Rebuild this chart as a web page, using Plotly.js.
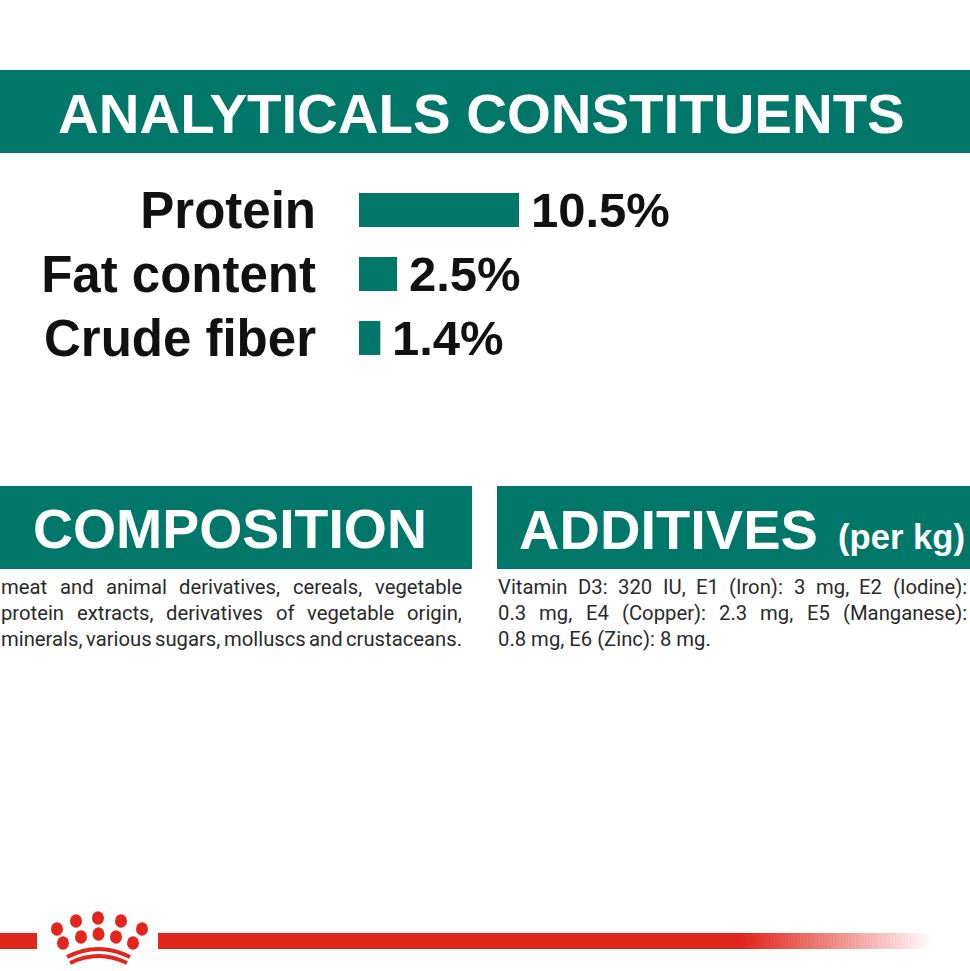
<!DOCTYPE html>
<html><head><meta charset="utf-8">
<script src="https://cdn.plot.ly/plotly-3.0.1.min.js"></script>
<style>html,body{margin:0;padding:0;background:#fff;overflow:hidden}#chart{width:970px;height:971px}</style>
</head><body><div id="chart"></div>
<script>
// ---- data ----
const categories = ["Protein", "Fat content", "Crude fiber"];
const values = [10.5, 2.5, 1.4];
const valueLabels = ["10.5%", "2.5%", "1.4%"];
const mainTitle = "ANALYTICALS CONSTITUENTS";
const compositionTitle = "COMPOSITION";
const additivesTitle = "ADDITIVES";
const additivesUnit = "(per kg)";
const compositionLines = [
  "meat and animal derivatives, cereals, vegetable",
  "protein extracts, derivatives of vegetable origin,",
  "minerals, various sugars, molluscs and crustaceans."
];
const additivesLines = [
  "Vitamin D3: 320 IU, E1 (Iron): 3 mg, E2 (Iodine):",
  "0.3 mg, E4 (Copper): 2.3 mg, E5 (Manganese):",
  "0.8 mg, E6 (Zinc): 8 mg."
];

// ---- helpers ----
const W = 970, H = 971;
const X = p => p / W, Y = p => 1 - p / H;
const TEAL = '#017769', RED = '#e1261c', INK = '#111111', BODY = '#2a2a2a';
const ctx = document.createElement('canvas').getContext('2d');
function tw(t, size, fam, weight) { ctx.font = (weight || 'normal') + ' ' + size + 'px ' + fam; return ctx.measureText(t).width; }
function hasFont(f) {
  const s = 'ABCDEFGHIJKLM abcdefghijklm 0123456789';
  return Math.abs(tw(s, 100, '"' + f + '", monospace', 'bold') - tw(s, 100, 'monospace', 'bold')) > 0.5;
}
const HEAD_FAM = hasFont('Liberation Sans Narrow') ? '"Liberation Sans Narrow", "Liberation Sans", Arial, sans-serif' : '"Liberation Sans", Arial, sans-serif';
const LABEL_FAM = '"Liberation Sans", Arial, sans-serif';
const BODY_FAM = 'Roboto, "Liberation Sans", sans-serif';
function fitSize(text, fam, targetW, capTarget) {
  const s = targetW / (tw(text, 100, fam, 'bold') / 100);
  return Math.min(s, capTarget * 1.06 / 0.716);
}

const annotations = [];
const shapes = [];
function rect(x0, y0, x1, y1, color, opacity) {
  shapes.push({type: 'rect', xref: 'paper', yref: 'paper', x0: X(x0), x1: X(x1), y0: Y(y1), y1: Y(y0),
    fillcolor: color, opacity: opacity == null ? 1 : opacity, line: {width: 0}, layer: 'below'});
}
function headText(text, x, anchor, capCenter, size) {
  annotations.push({text: text, xref: 'paper', yref: 'paper', x: X(x), y: Y(capCenter), xanchor: anchor, yanchor: 'middle',
    showarrow: false, borderpad: 0, borderwidth: 0, font: {family: HEAD_FAM, size: size, color: '#ffffff', weight: 'bold'}});
}

// ---- heading bands ----
rect(0, 70, 970, 153, TEAL);
rect(0, 486, 472, 569, TEAL);
rect(497, 486, 970, 569, TEAL);

const tSize = fitSize(mainTitle, HEAD_FAM, 847, 44);
headText(mainTitle, 481.5, 'center', 114, tSize);
const cSize = fitSize(compositionTitle, HEAD_FAM, 394, 46);
headText(compositionTitle, 230, 'center', 529, cSize);
const aSize = fitSize(additivesTitle, HEAD_FAM, 299, 46);
headText(additivesTitle, 519, 'left', 529, aSize);
const uSize = fitSize(additivesUnit, HEAD_FAM, 127, 27);
annotations.push({text: additivesUnit, xref: 'paper', yref: 'paper', x: X(965), y: Y(549 - 0.347 * uSize), xanchor: 'right', yanchor: 'middle',
  showarrow: false, borderpad: 0, borderwidth: 0, font: {family: HEAD_FAM, size: uSize, color: '#ffffff', weight: 'bold'}});

// ---- body text (justified) ----
let bSize = 20 * 213 / tw(additivesLines[2], 20, BODY_FAM);
bSize = Math.max(17, Math.min(22, bSize));
function bodyLine(line, left, right, baseline, justify) {
  const yc = Y(baseline - 0.345 * bSize);
  if (!justify) {
    annotations.push({text: line, xref: 'paper', yref: 'paper', x: X(left), y: yc, xanchor: 'left', yanchor: 'middle',
      showarrow: false, borderpad: 0, borderwidth: 0, font: {family: BODY_FAM, size: bSize, color: BODY}});
    return;
  }
  const words = line.split(' ');
  const ws = words.map(w => tw(w, bSize, BODY_FAM));
  const gap = (right - left - ws.reduce((a, b) => a + b, 0)) / (words.length - 1);
  let x = left;
  words.forEach((w, i) => {
    annotations.push({text: w, xref: 'paper', yref: 'paper', x: X(x), y: yc, xanchor: 'left', yanchor: 'middle',
      showarrow: false, borderpad: 0, borderwidth: 0, font: {family: BODY_FAM, size: bSize, color: BODY}});
    x += ws[i] + gap;
  });
}
const baselines = [594, 620, 646];
compositionLines.forEach((l, i) => bodyLine(l, 1, 462, baselines[i], true));
additivesLines.forEach((l, i) => bodyLine(l, 498, 967, baselines[i], i < additivesLines.length - 1));

// ---- value labels ----
values.forEach((v, i) => {
  annotations.push({text: valueLabels[i], xref: 'x', yref: 'y', x: v, y: categories[i], xanchor: 'left', yanchor: 'middle',
    xshift: 12, showarrow: false, borderpad: 0, borderwidth: 0,
    font: {family: LABEL_FAM, size: 49, color: INK, weight: 'bold'}});
});

// ---- bottom red line & crown ----
rect(0, 933, 37, 949, RED);
rect(158, 933, 742, 949, RED);
for (let x = 742; x < 932; x += 3) {
  const t = (x + 1.5 - 742) / (932 - 742);
  rect(x, 933, x + 3.2, 949, RED, Math.max(0, 1 - t));
}
function dot(cx, cy) {
  shapes.push({type: 'circle', xref: 'paper', yref: 'paper', x0: X(cx - 6), x1: X(cx + 6), y0: Y(cy + 6.8), y1: Y(cy - 6.8),
    fillcolor: RED, line: {width: 0}});
}
[[57, 929], [76, 921], [98, 918], [121, 921], [142, 929], [63, 943], [81, 937], [98.5, 934], [116, 937], [133, 943]].forEach(d => dot(d[0], d[1]));
function arc(x0, y0, cx, cy, x1, y1) {
  const p = 'M ' + X(x0) + ',' + Y(y0) + ' Q ' + X(cx) + ',' + Y(cy) + ' ' + X(x1) + ',' + Y(y1);
  shapes.push({type: 'path', xref: 'paper', yref: 'paper', path: p, line: {color: RED, width: 4}, fillcolor: 'rgba(0,0,0,0)'});
}
arc(67, 957, 98.5, 941, 130, 957);
arc(70, 963, 98.5, 949, 127, 963);

// ---- bar chart ----
const pxPerUnit = 15.24;
const trace = {
  type: 'bar', orientation: 'h', y: categories, x: values,
  marker: {color: TEAL, line: {width: 0}}, width: 0.53, hoverinfo: 'skip'
};
const layout = {
  width: W, height: H, margin: {l: 0, r: 0, t: 0, b: 0},
  paper_bgcolor: '#ffffff', plot_bgcolor: 'rgba(0,0,0,0)', showlegend: false,
  xaxis: {domain: [X(359), 1], range: [0, (W - 359) / pxPerUnit], visible: false, fixedrange: true},
  yaxis: {domain: [Y(370), Y(178)], type: 'category', categoryorder: 'array', categoryarray: categories,
    range: [categories.length - 0.5, -0.5], showgrid: false, zeroline: false, showline: false, ticks: '',
    ticklabelstandoff: 42, tickfont: {family: LABEL_FAM, size: 51, color: INK, weight: 'bold'}, fixedrange: true},
  shapes: shapes, annotations: annotations
};
Plotly.newPlot('chart', [trace], layout, {displayModeBar: false, staticPlot: true});
</script>
</body></html>
